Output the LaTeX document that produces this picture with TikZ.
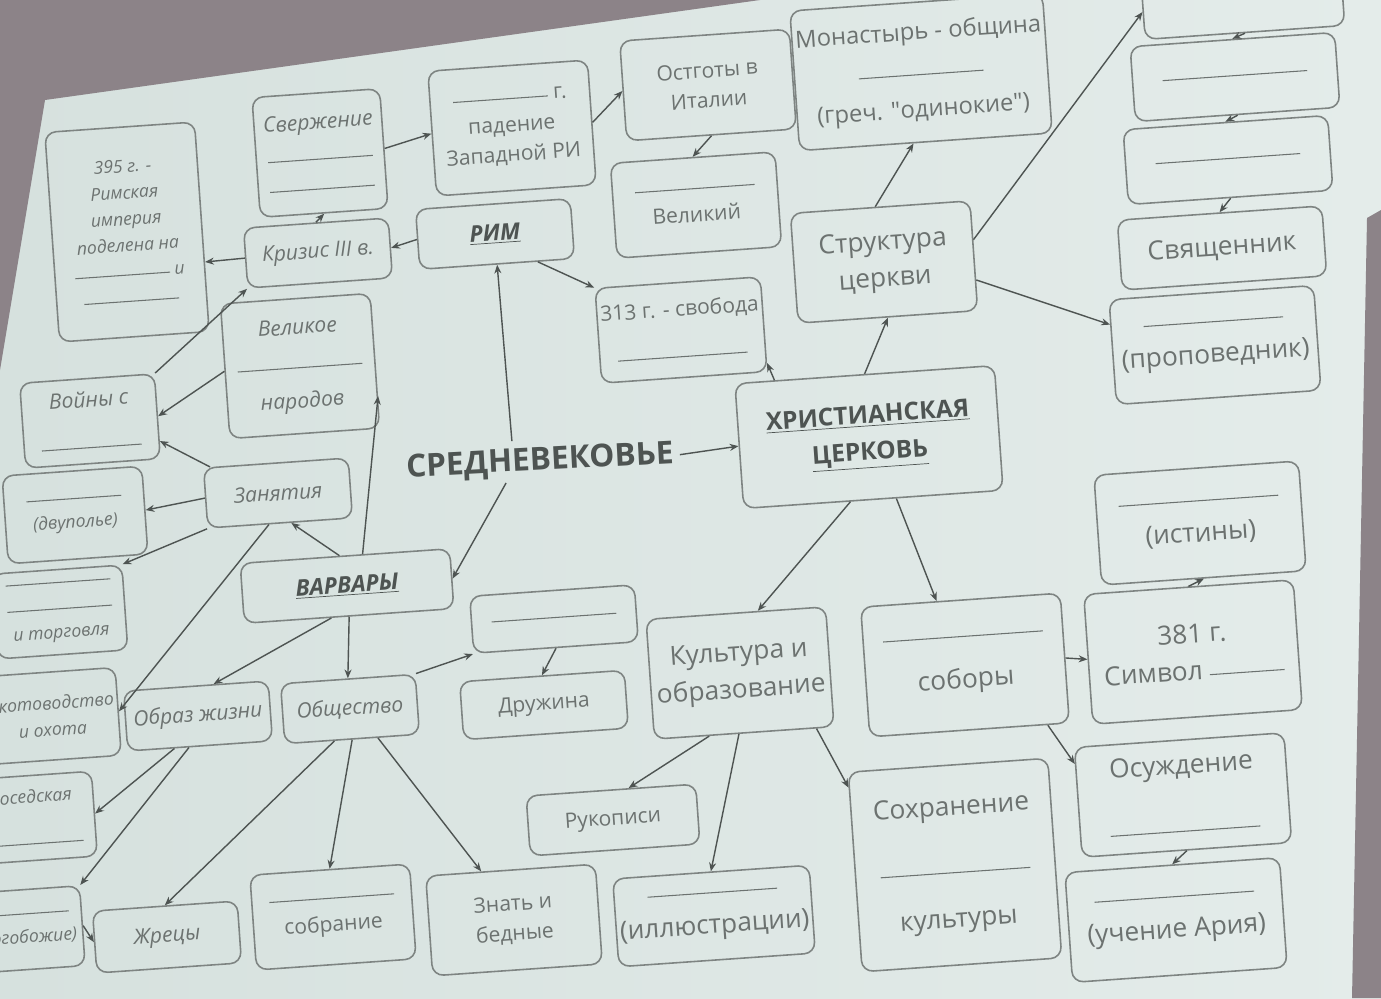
\documentclass[tikz,border=0pt]{standalone}
\usepackage{fontspec}
\setmainfont{Open Sans}
\usetikzlibrary{arrows.meta}
\definecolor{slideL}{HTML}{D6E1DE}
\definecolor{slideR}{HTML}{E4ECEA}
\definecolor{wall}{HTML}{8C8388}
\definecolor{ink}{HTML}{6C7270}
\definecolor{edge}{HTML}{7E8482}
\definecolor{dark}{HTML}{4E5452}
\newcommand{\ansline}[1][2.4cm]{\rule[0.25ex]{#1}{0.6pt}}
\tikzset{
  box/.style={draw=edge, line width=0.9pt, rounded corners=0.22cm, text=ink,
    align=center, inner sep=2pt, font=\fontsize{12}{17}\selectfont, rotate=4},
  bx/.style 2 args={minimum width=#1*0.02cm, minimum height=#2*0.02cm},
  it/.style={font=\itshape\fontsize{12}{17}\selectfont},
  sm/.style={font=\itshape\fontsize{10}{15}\selectfont},
  big/.style={font=\fontsize{15}{21}\selectfont},
  hd/.style={text=dark},
  arr/.style={draw=dark, line width=0.8pt, -{Stealth[length=5pt,width=4pt]}},
}
\begin{document}
\begin{tikzpicture}[x=0.02cm,y=-0.02cm]
\useasboundingbox (0,0) rectangle (1381,998);
% background (photo of the projected slide)
\shade[left color=slideL, right color=slideR] (0,0) rectangle (1381,998);
\fill[wall] (0,0) -- (760,0) -- (45,100) -- (0,370) -- cycle;
\fill[wall] (1381,210) -- (1367,218) -- (1352,998) -- (1381,998) -- cycle;

% ---- Rome branch
\node[box,sm,bx={150}{210}] (b395) at (127,232) {395 г. -\\Римская\\империя\\поделена на\\\ansline[1.9cm] и\\\ansline[1.9cm]};
\node[box,it,bx={128}{120}] (sverzh) at (320,153) {Свержение\\[2pt]\ansline[2.1cm]\\\ansline[2.1cm]};
\node[box,bx={160}{125}] (pad) at (512,128) {\ansline[1.9cm] г.\\падение\\Западной РИ};
\node[box,bx={170}{100}] (ostg) at (708,85) {Остготы в\\Италии};
\node[box,bx={165}{95}] (velk) at (696,205) {\ansline[2.4cm]\\Великий};
\node[box,it,bx={145}{60}] (kriz) at (318,253) {Кризис III в.};
\node[box,bx={155}{60},font=\bfseries\itshape\fontsize{13}{17}\selectfont,hd] (rim) at (495,234) {\underline{РИМ}};
\node[box,bx={165}{95}] (s313) at (681,330) {313 г. - свобода\\[8pt]\ansline[2.6cm]};

% ---- Church structure
\node[box,bx={225}{140},font=\fontsize{13.5}{22}\selectfont] (monast) at (921,72) {Монастырь - община\\\ansline[2.5cm]\\(греч. \textquotedbl одинокие\textquotedbl)};
\node[box,big,bx={180}{110}] (struct) at (884,262) {Структура\\церкви};
\node[box,bx={200}{55}] (topb) at (1243,5) {};
\node[box,bx={205}{75}] (b2) at (1235,77) {\ansline[2.9cm]};
\node[box,bx={205}{75}] (b3) at (1228,160) {\ansline[2.9cm]};
\node[box,big,bx={205}{70}] (svy) at (1222,248) {Священник};
\node[box,big,bx={205}{105}] (prop) at (1215,345) {\ansline[2.8cm]\\(проповедник)};

% ---- Barbarians
\node[box,it,bx={150}{135}] (velikoe) at (300,366) {Великое\\[4pt]\ansline[2.5cm]\\[4pt]народов};
\node[box,it,bx={135}{85}] (voiny) at (90,421) {Войны с\\[8pt]\ansline[2cm]};
\node[box,it,bx={145}{60}] (zan) at (278,493) {Занятия};
\node[box,sm,bx={140}{88}] (dvup) at (75,515) {\ansline[1.9cm]\\(двуполье)};
\node[box,sm,bx={130}{85}] (torg) at (60,612) {\ansline[2.1cm]\\\ansline[2.1cm]\\и торговля};
\node[box,sm,bx={130}{88}] (skot) at (52,716) {Скотоводство\\и охота};
\node[box,bx={210}{60},font=\bfseries\itshape\fontsize{13}{17}\selectfont,hd] (varv) at (347,586) {\underline{ВАРВАРЫ}};
\node[box,it,bx={145}{60}] (obraz) at (198,716) {Образ жизни};
\node[box,it,bx={135}{60}] (obsh) at (350,709) {Общество};
\node[box,bx={165}{57}] (drb) at (554,619) {\ansline[2.5cm]};
\node[box,bx={165}{58}] (druzh) at (544,705) {Дружина};
\node[box,sm,bx={125}{85}] (sosed) at (32,818) {Соседская\\[10pt]\ansline[2cm]};
\node[box,sm,bx={125}{80}] (mnogo) at (20,930) {\ansline[2cm]\\(многобожие)};
\node[box,it,bx={145}{62}] (zhrec) at (167,937) {Жрецы};
\node[box,bx={160}{95}] (sobr) at (333,917) {\ansline[2.5cm]\\собрание};
\node[box,bx={170}{100}] (znat) at (514,920) {Знать и\\бедные};

% ---- Church
\node[box,bx={260}{125},font=\bfseries\fontsize{14}{21}\selectfont,hd] (christ) at (869,437) {\underline{ХРИСТИАНСКАЯ}\\\underline{ЦЕРКОВЬ}};
\node[box,big,bx={180}{120}] (kult) at (740,673) {Культура и\\образование};
\node[box,bx={170}{60}] (ruk) at (613,820) {Рукописи};
\node[box,big,bx={185}{88}] (illus) at (714,916) {\ansline[2.6cm]\\(иллюстрации)};
\node[box,big,bx={200}{130}] (sobory) at (965,665) {\ansline[3.2cm]\\[6pt]соборы};
\node[box,big,bx={200}{200}] (sohr) at (955,865) {Сохранение\\[14pt]\ansline[3cm]\\[8pt]культуры};
\node[box,big,bx={205}{110}] (istin) at (1200,523) {\ansline[3.2cm]\\(истины)};
\node[box,big,bx={210}{130}] (s381) at (1193,652) {381 г.\\Символ \ansline[1.5cm]};
\node[box,big,bx={210}{110}] (osuzh) at (1183,795) {Осуждение\\[14pt]\ansline[3cm]};
\node[box,big,bx={215}{110}] (uchen) at (1176,920) {\ansline[3.2cm]\\(учение Ария)};

% ---- title
\node[rotate=3,text=dark,font=\bfseries\fontsize{18}{22}\selectfont] (title) at (540,462) {СРЕДНЕВЕКОВЬЕ};

% ---- connectors
\draw[arr] (rim.west) -- (kriz.east);
\draw[arr] (kriz.north) -- (sverzh.south);
\draw[arr] (sverzh.east) -- (pad.west);
\draw[arr] (pad.east) -- (ostg.west);
\draw[arr] (ostg.south) -- (velk.north);
\draw[arr] (kriz.west) -- (b395.-25);
\draw[arr] (rim.-37) -- (s313.north west);
\draw[arr] ([xshift=-0.54cm]title.north) -- (rim.south);
\draw[arr] ([xshift=-0.7cm]title.south) -- (varv.east);
\draw[arr] (title.east) -- (christ.west);

\draw[arr] (voiny.north east) -- (kriz.south west);
\draw[arr] (velikoe.west) -- (voiny.east);
\draw[arr] (zan.155) -- (voiny.-20);
\draw[arr] (zan.west) -- (dvup.east);
\draw[arr] (zan.south west) -- (torg.north east);
\draw[arr] (zan.-110) -- (skot.east);
\draw[arr] (varv.100) -- (zan.-70);
\draw[arr] (varv.60) -- (velikoe.-25);
\draw[arr] (varv.-120) -- (obraz.60);
\draw[arr] (varv.south) -- (obsh.north);
\draw[arr] (obraz.-130) -- (sosed.east);
\draw[arr] (obraz.-110) -- (mnogo.north east);
\draw[arr] (mnogo.east) -- (zhrec.west);
\draw[arr] (obsh.-120) -- (zhrec.north);
\draw[arr] (obsh.south) -- (sobr.north);
\draw[arr] (obsh.-50) -- (znat.120);
\draw[arr] (obsh.north east) -- (drb.south west);
\draw[arr] (drb.south) -- (druzh.north);

\draw[arr] (christ.145) -- (s313.-25);
\draw[arr] (christ.north) -- (struct.south);
\draw[arr] (struct.95) -- (monast.-100);
\draw[arr] (struct.10) -- (topb.west);
\draw[arr] (struct.-15) -- (prop.165);
\draw[arr] (topb.south) -- (b2.north);
\draw[arr] (b2.south) -- (b3.north);
\draw[arr] (b3.south) -- (svy.north);
\draw[arr] (christ.-110) -- (kult.70);
\draw[arr] (christ.-70) -- (sobory.110);
\draw[arr] (sobory.east) -- (s381.west);
\draw[arr] (sobory.-40) -- (osuzh.160);
\draw[arr] (s381.north) -- (istin.south);
\draw[arr] (osuzh.south) -- (uchen.north);
\draw[arr] (kult.-120) -- (ruk.60);
\draw[arr] (kult.-95) -- (illus.north);
\draw[arr] (kult.-40) -- (sohr.140);
\end{tikzpicture}
\end{document}
